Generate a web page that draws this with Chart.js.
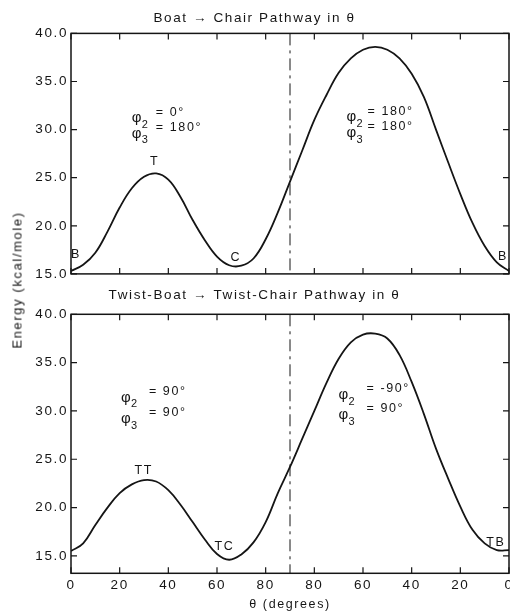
<!DOCTYPE html>
<html>
<head>
<meta charset="utf-8">
<script src="https://cdn.jsdelivr.net/npm/chart.js@4.4.0/dist/chart.umd.min.js"></script>
<style>
html, body { margin: 0; padding: 0; background: #fff; }
#wrap { position: relative; width: 510px; height: 612px; }
#top { position: absolute; left: 0; top: 0; }
#bottom { position: absolute; left: 0; top: 285px; }
#ylabel {
  position: absolute; left: 17px; top: 280px;
  transform: translate(-50%, -50%) rotate(-90deg);
  white-space: nowrap; font: 13px "Liberation Sans"; letter-spacing: 1.6px; color: #151515;
}
</style>
</head>
<body>
<div id="wrap">
  <canvas id="top" width="510" height="285"></canvas>
  <canvas id="bottom" width="510" height="327"></canvas>
  <div id="ylabel">Energy (kcal/mole)</div>
</div>
<script>
// θ goes 0 -> 90 -> 0 along the path, plotted as position 0..180 (every 5°)
const pathPos = [0, 5, 10, 15, 20, 25, 30, 35, 40, 45, 50, 55, 60, 65, 70, 75, 80, 85, 90,
  95, 100, 105, 110, 115, 120, 125, 130, 135, 140, 145, 150, 155, 160, 165, 170, 175, 180];

const energyBoat = [15.3, 15.95, 17.2, 19.4, 21.9, 23.9, 25.1, 25.45, 24.8, 23.0, 20.6, 18.5, 16.8, 15.9, 15.85, 16.6, 18.6, 21.4, 24.6,
  27.8, 31.0, 33.6, 35.9, 37.4, 38.3, 38.6, 38.3, 37.4, 35.8, 33.4, 30.0, 26.6, 23.3, 20.3, 17.9, 16.2, 15.3];

const energyTwist = [15.5, 16.3, 18.2, 20.0, 21.5, 22.4, 22.85, 22.7, 21.8, 20.3, 18.5, 16.7, 15.2, 14.6, 15.15, 16.4, 18.5, 21.5, 24.2,
  27.1, 30.0, 32.9, 35.4, 37.1, 37.9, 38.0, 37.5, 35.8, 33.0, 29.7, 26.1, 23.0, 20.1, 17.7, 16.3, 15.6, 15.6];

const xTicks = [0, 20, 40, 60, 80, 100, 120, 140, 160, 180];
const xTickLabels = ['0', '20', '40', '60', '80', '80', '60', '40', '20', '0'];
const yTicks = [15, 20, 25, 30, 35, 40];

const ink = '#151515';
const font = '"Liberation Sans", Arial, sans-serif';

// frame, inward ticks, dashed line at 90 and the text marks
const framePlugin = {
  id: 'frame',
  beforeUpdate(chart) { chart.ctx.letterSpacing = '1.6px'; },
  beforeDraw(chart) { chart.ctx.letterSpacing = '1.6px'; },
  afterDatasetsDraw(chart, args, opts) {
    const { ctx, chartArea: a, scales: { x, y } } = chart;
    ctx.save();
    ctx.strokeStyle = ink;
    ctx.lineWidth = 1.5;
    ctx.strokeRect(a.left, a.top, a.right - a.left, a.bottom - a.top);

    ctx.lineWidth = 1.2;
    ctx.beginPath();
    xTicks.forEach(v => {
      const px = x.getPixelForValue(v);
      ctx.moveTo(px, a.bottom); ctx.lineTo(px, a.bottom - 6);
      ctx.moveTo(px, a.top); ctx.lineTo(px, a.top + 6);
    });
    yTicks.forEach(v => {
      const py = y.getPixelForValue(v);
      ctx.moveTo(a.left, py); ctx.lineTo(a.left + 6, py);
      ctx.moveTo(a.right, py); ctx.lineTo(a.right - 6, py);
    });
    ctx.stroke();

    const mid = x.getPixelForValue(90);
    ctx.lineWidth = 1;
    ctx.setLineDash([12, 5, 3, 5]);
    ctx.beginPath();
    ctx.moveTo(mid, a.top); ctx.lineTo(mid, a.bottom);
    ctx.stroke();
    ctx.setLineDash([]);

    ctx.fillStyle = ink;
    ctx.textBaseline = 'middle';
    ctx.textAlign = 'center';
    ctx.font = '12.5px ' + font;
    opts.marks.forEach(m => ctx.fillText(m.text, x.getPixelForValue(m.x), y.getPixelForValue(m.y)));

    ctx.textAlign = 'left';
    opts.phis.forEach(p => {
      const px = x.getPixelForValue(p.x), py = y.getPixelForValue(p.y);
      ctx.font = '15px ' + font;
      ctx.fillText('φ', px, py);
      ctx.font = '11px ' + font;
      ctx.fillText(p.sub, px + 10, py + 7);
      ctx.font = '12.5px ' + font;
      ctx.fillText(p.text, px + p.dx, py - 6);
    });
    ctx.restore();
  }
};

function makeChart(id, ys, yMin, title, titlePad, showX, layoutPad, marks, phis) {
  const points = pathPos.map((v, i) => ({ x: v, y: ys[i] }));
  return new Chart(document.getElementById(id), {
    type: 'line',
    data: {
      datasets: [{
        data: points,
        borderColor: ink,
        borderWidth: 1.8,
        pointRadius: 0,
        fill: false,
        tension: 0.4
      }]
    },
    options: {
      responsive: false,
      animation: false,
      layout: { padding: layoutPad },
      plugins: {
        legend: { display: false },
        tooltip: { enabled: false },
        title: {
          display: true,
          text: title,
          color: ink,
          font: { family: font, size: 13.5, weight: 'normal', lineHeight: 1.2 },
          padding: titlePad
        },
        frame: { marks: marks, phis: phis }
      },
      scales: {
        x: {
          type: 'linear',
          min: 0,
          max: 180,
          display: showX,
          afterBuildTicks: s => { s.ticks = xTicks.map(v => ({ value: v })); },
          afterFit: s => {
            s.paddingLeft = 0;
            s.paddingRight = 0;
            if (showX) s.height = 38.7;
          },
          grid: { display: false, drawTicks: false },
          border: { display: false },
          ticks: {
            color: ink,
            padding: 4,
            maxRotation: 0,
            autoSkip: false,
            font: { family: font, size: 13.5 },
            callback: (v, i) => xTickLabels[i]
          },
          title: {
            display: showX,
            text: 'θ (degrees)',
            color: ink,
            font: { family: font, size: 12.5, lineHeight: 1.2 },
            padding: 0
          }
        },
        y: {
          min: yMin,
          max: 40,
          afterBuildTicks: s => { s.ticks = yTicks.map(v => ({ value: v })); },
          afterFit: s => { s.width = 71; },
          grid: { display: false, drawTicks: false },
          border: { display: false },
          ticks: {
            color: ink,
            padding: 3,
            font: { family: font, size: 13.5 },
            callback: v => v.toFixed(1)
          }
        }
      }
    },
    plugins: [framePlugin]
  });
}

makeChart('top', energyBoat, 15, 'Boat → Chair Pathway in θ',
  { top: 10.2, bottom: 7 }, false, { left: 0, right: 1, top: 0, bottom: 10.7 },
  [
    { x: 2, y: 17.0, text: 'B' },
    { x: 34.4, y: 26.7, text: 'T' },
    { x: 67.7, y: 16.75, text: 'C' },
    { x: 177.5, y: 16.85, text: 'B' }
  ],
  [
    { x: 25.0, y: 31.2, sub: '2', text: '= 0°', dx: 24 },
    { x: 25.0, y: 29.6, sub: '3', text: '= 180°', dx: 24 },
    { x: 113.2, y: 31.3, sub: '2', text: '= 180°', dx: 21 },
    { x: 113.2, y: 29.65, sub: '3', text: '= 180°', dx: 21 }
  ]);

makeChart('bottom', energyTwist, 13.2, 'Twist-Boat → Twist-Chair Pathway in θ',
  { top: 1.9, bottom: 11.2 }, true, { left: 0, right: 1, top: 0, bottom: 0 },
  [
    { x: 29.9, y: 23.8, text: 'TT' },
    { x: 63.1, y: 15.95, text: 'TC' },
    { x: 174.6, y: 16.4, text: 'TB' }
  ],
  [
    { x: 20.5, y: 31.4, sub: '2', text: '= 90°', dx: 28 },
    { x: 20.5, y: 29.2, sub: '3', text: '= 90°', dx: 28 },
    { x: 109.9, y: 31.65, sub: '2', text: '= -90°', dx: 28 },
    { x: 109.9, y: 29.6, sub: '3', text: '= 90°', dx: 28 }
  ]);
</script>
</body>
</html>
